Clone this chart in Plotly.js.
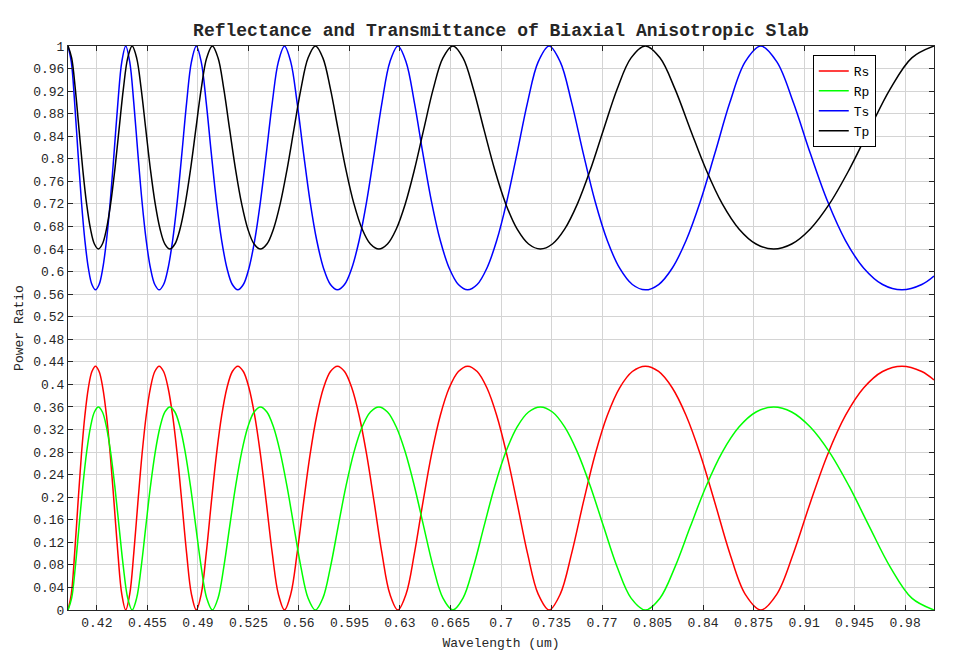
<!DOCTYPE html>
<html>
<head>
<meta charset="utf-8">
<script src="https://cdn.plot.ly/plotly-3.0.1.min.js"></script>
<style>
	body{margin:0; background:#fff;}
	#grafico{width:956px; height:667px;}
</style>
</head>
<body>
<div id="grafico"></div>
<script>
// comprimentos de onda (um), polarizacao s
var lambdaS = [0.4, 0.40229, 0.40460, 0.40694, 0.40930, 0.41170, 0.41412, 0.41657, 0.41905, 0.42156, 0.42410, 0.42667, 0.42927, 0.43190, 0.43457, 0.43727,
	0.44, 0.44277, 0.44557, 0.44841, 0.45128, 0.45419, 0.45714, 0.46013, 0.46316, 0.46623, 0.46933, 0.47248, 0.47568, 0.47891, 0.48219, 0.48552,
	0.48889, 0.49231, 0.49577, 0.49929, 0.50286, 0.50648, 0.51014, 0.51387, 0.51765, 0.52148, 0.52537, 0.52932, 0.53333, 0.53741, 0.54154, 0.54574,
	0.55, 0.55433, 0.55873, 0.5632, 0.56774, 0.57236, 0.57705, 0.58182, 0.58667, 0.59160, 0.59661, 0.60171, 0.60690, 0.61217, 0.61754, 0.62301,
	0.62857, 0.63423, 0.64, 0.64587, 0.65185, 0.65794, 0.66415, 0.67048, 0.67692, 0.68350, 0.69020, 0.69703, 0.704, 0.71111, 0.71837, 0.72577,
	0.73333, 0.74105, 0.74894, 0.75699, 0.76522, 0.77363, 0.78222, 0.79101, 0.8, 0.80920, 0.81860, 0.82824, 0.83810, 0.84819, 0.85854, 0.86914,
	0.88, 0.89114, 0.90256, 0.91429, 0.92632, 0.93867, 0.95135, 0.96438, 0.97778, 0.99155, 1.0];

var rs = [0, 0.0282, 0.1003, 0.1903, 0.2758, 0.3449, 0.3940, 0.4229, 0.4324, 0.4229, 0.3940, 0.3449, 0.2758, 0.1903, 0.1003, 0.0282,
	0, 0.0282, 0.1003, 0.1903, 0.2758, 0.3449, 0.3940, 0.4229, 0.4324, 0.4229, 0.3940, 0.3449, 0.2758, 0.1903, 0.1003, 0.0282,
	0, 0.0282, 0.1003, 0.1903, 0.2758, 0.3449, 0.3940, 0.4229, 0.4324, 0.4229, 0.3940, 0.3449, 0.2758, 0.1903, 0.1003, 0.0282,
	0, 0.0282, 0.1003, 0.1903, 0.2758, 0.3449, 0.3940, 0.4229, 0.4324, 0.4229, 0.3940, 0.3449, 0.2758, 0.1903, 0.1003, 0.0282,
	0, 0.0282, 0.1003, 0.1903, 0.2758, 0.3449, 0.3940, 0.4229, 0.4324, 0.4229, 0.3940, 0.3449, 0.2758, 0.1903, 0.1003, 0.0282,
	0, 0.0282, 0.1003, 0.1903, 0.2758, 0.3449, 0.3940, 0.4229, 0.4324, 0.4229, 0.3940, 0.3449, 0.2758, 0.1903, 0.1003, 0.0282,
	0, 0.0282, 0.1003, 0.1903, 0.2758, 0.3449, 0.3940, 0.4229, 0.4324, 0.4229, 0.4079];

var ts = [1, 0.9718, 0.8997, 0.8097, 0.7242, 0.6551, 0.6060, 0.5771, 0.5676, 0.5771, 0.6060, 0.6551, 0.7242, 0.8097, 0.8997, 0.9718,
	1, 0.9718, 0.8997, 0.8097, 0.7242, 0.6551, 0.6060, 0.5771, 0.5676, 0.5771, 0.6060, 0.6551, 0.7242, 0.8097, 0.8997, 0.9718,
	1, 0.9718, 0.8997, 0.8097, 0.7242, 0.6551, 0.6060, 0.5771, 0.5676, 0.5771, 0.6060, 0.6551, 0.7242, 0.8097, 0.8997, 0.9718,
	1, 0.9718, 0.8997, 0.8097, 0.7242, 0.6551, 0.6060, 0.5771, 0.5676, 0.5771, 0.6060, 0.6551, 0.7242, 0.8097, 0.8997, 0.9718,
	1, 0.9718, 0.8997, 0.8097, 0.7242, 0.6551, 0.6060, 0.5771, 0.5676, 0.5771, 0.6060, 0.6551, 0.7242, 0.8097, 0.8997, 0.9718,
	1, 0.9718, 0.8997, 0.8097, 0.7242, 0.6551, 0.6060, 0.5771, 0.5676, 0.5771, 0.6060, 0.6551, 0.7242, 0.8097, 0.8997, 0.9718,
	1, 0.9718, 0.8997, 0.8097, 0.7242, 0.6551, 0.6060, 0.5771, 0.5676, 0.5771, 0.5921];

// comprimentos de onda (um), polarizacao p
var lambdaP = [0.4, 0.40252, 0.40506, 0.40764, 0.41026, 0.41290, 0.41558, 0.41830, 0.42105, 0.42384, 0.42667, 0.42953, 0.43243, 0.43537, 0.43836, 0.44138,
	0.44444, 0.44755, 0.45070, 0.45390, 0.45714, 0.46043, 0.46377, 0.46715, 0.47059, 0.47407, 0.47761, 0.48120, 0.48485, 0.48855, 0.49231, 0.49612,
	0.5, 0.50394, 0.50794, 0.512, 0.51613, 0.52033, 0.52459, 0.52893, 0.53333, 0.53782, 0.54237, 0.54701, 0.55172, 0.55652, 0.56140, 0.56637,
	0.57143, 0.57658, 0.58182, 0.58716, 0.59259, 0.59813, 0.60377, 0.60952, 0.61538, 0.62136, 0.62745, 0.63366, 0.64, 0.64646, 0.65306, 0.65979,
	0.66667, 0.67368, 0.68085, 0.68817, 0.69565, 0.70330, 0.71111, 0.71910, 0.72727, 0.73563, 0.74419, 0.75294, 0.76190, 0.77108, 0.78049, 0.79012,
	0.8, 0.81013, 0.82051, 0.83117, 0.84211, 0.85333, 0.86486, 0.87671, 0.88889, 0.90141, 0.91429, 0.92754, 0.94118, 0.95522, 0.96970, 0.98462,
	1.0];

var rp = [0, 0.0210, 0.0761, 0.1479, 0.2195, 0.2800, 0.3244, 0.3511, 0.36, 0.3511, 0.3244, 0.2800, 0.2195, 0.1479, 0.0761, 0.0210,
	0, 0.0210, 0.0761, 0.1479, 0.2195, 0.2800, 0.3244, 0.3511, 0.36, 0.3511, 0.3244, 0.2800, 0.2195, 0.1479, 0.0761, 0.0210,
	0, 0.0210, 0.0761, 0.1479, 0.2195, 0.2800, 0.3244, 0.3511, 0.36, 0.3511, 0.3244, 0.2800, 0.2195, 0.1479, 0.0761, 0.0210,
	0, 0.0210, 0.0761, 0.1479, 0.2195, 0.2800, 0.3244, 0.3511, 0.36, 0.3511, 0.3244, 0.2800, 0.2195, 0.1479, 0.0761, 0.0210,
	0, 0.0210, 0.0761, 0.1479, 0.2195, 0.2800, 0.3244, 0.3511, 0.36, 0.3511, 0.3244, 0.2800, 0.2195, 0.1479, 0.0761, 0.0210,
	0, 0.0210, 0.0761, 0.1479, 0.2195, 0.2800, 0.3244, 0.3511, 0.36, 0.3511, 0.3244, 0.2800, 0.2195, 0.1479, 0.0761, 0.0210,
	0];

var tp = [1, 0.9790, 0.9239, 0.8521, 0.7805, 0.7200, 0.6756, 0.6489, 0.64, 0.6489, 0.6756, 0.7200, 0.7805, 0.8521, 0.9239, 0.9790,
	1, 0.9790, 0.9239, 0.8521, 0.7805, 0.7200, 0.6756, 0.6489, 0.64, 0.6489, 0.6756, 0.7200, 0.7805, 0.8521, 0.9239, 0.9790,
	1, 0.9790, 0.9239, 0.8521, 0.7805, 0.7200, 0.6756, 0.6489, 0.64, 0.6489, 0.6756, 0.7200, 0.7805, 0.8521, 0.9239, 0.9790,
	1, 0.9790, 0.9239, 0.8521, 0.7805, 0.7200, 0.6756, 0.6489, 0.64, 0.6489, 0.6756, 0.7200, 0.7805, 0.8521, 0.9239, 0.9790,
	1, 0.9790, 0.9239, 0.8521, 0.7805, 0.7200, 0.6756, 0.6489, 0.64, 0.6489, 0.6756, 0.7200, 0.7805, 0.8521, 0.9239, 0.9790,
	1, 0.9790, 0.9239, 0.8521, 0.7805, 0.7200, 0.6756, 0.6489, 0.64, 0.6489, 0.6756, 0.7200, 0.7805, 0.8521, 0.9239, 0.9790,
	1];

var ticksX = [0.42, 0.455, 0.49, 0.525, 0.56, 0.595, 0.63, 0.665, 0.7, 0.735, 0.77, 0.805, 0.84, 0.875, 0.91, 0.945, 0.98];
var rotulosX = ['0.42', '0.455', '0.49', '0.525', '0.56', '0.595', '0.63', '0.665', '0.7', '0.735', '0.77', '0.805', '0.84', '0.875', '0.91', '0.945', '0.98'];

var fonte = 'Liberation Mono, DejaVu Sans Mono, monospace';

function curva(x, y, nome, cor){
	return {
		x: x, y: y,
		name: nome,
		mode: 'lines',
		line: {color: cor, width: 1.5, shape: 'spline', smoothing: 1},
		type: 'scatter'};
}

var data = [
	curva(lambdaS, rs, 'Rs', 'rgb(255, 0, 0)'),
	curva(lambdaP, rp, 'Rp', 'rgb(0, 255, 0)'),
	curva(lambdaS, ts, 'Ts', 'rgb(0, 0, 255)'),
	curva(lambdaP, tp, 'Tp', 'rgb(0, 0, 0)')
];

var eixo = {
	showline: true,
	linecolor: '#262626',
	linewidth: 1,
	mirror: 'ticks',
	ticks: 'inside',
	ticklen: 5,
	tickcolor: '#262626',
	showgrid: true,
	gridcolor: '#d4d4d4',
	gridwidth: 1,
	zeroline: false,
	tickfont: {family: fonte, size: 13, color: '#262626'}
};

var layout = {
	width: 956,
	height: 667,
	paper_bgcolor: '#fff',
	plot_bgcolor: '#fff',
	margin: {l: 68, r: 22, t: 46, b: 57},
	font: {family: fonte, size: 13, color: '#262626'},
	title: {
		text: '<b>Reflectance and Transmittance of Biaxial Anisotropic Slab</b>',
		font: {family: fonte, size: 18, color: '#262626'},
		x: 0.524, xanchor: 'center',
		y: 0.955, yanchor: 'middle'},
	xaxis: Object.assign({}, eixo, {
		range: [0.4, 1.0],
		tickmode: 'array',
		tickvals: ticksX,
		ticktext: rotulosX,
		title: {text: 'Wavelength (um)', font: {family: fonte, size: 13}, standoff: 8}}),
	yaxis: Object.assign({}, eixo, {
		range: [0, 1],
		tick0: 0,
		dtick: 0.04,
		title: {text: 'Power Ratio', font: {family: fonte, size: 13}, standoff: 6}}),
	showlegend: true,
	legend: {
		x: 0.86, xanchor: 'left',
		y: 0.984, yanchor: 'top',
		bgcolor: '#fff',
		bordercolor: '#000',
		borderwidth: 1,
		font: {family: fonte, size: 13, color: '#000'},
		tracegroupgap: 0}
};

Plotly.newPlot('grafico', data, layout, {displayModeBar: false});
</script>
</body>
</html>
